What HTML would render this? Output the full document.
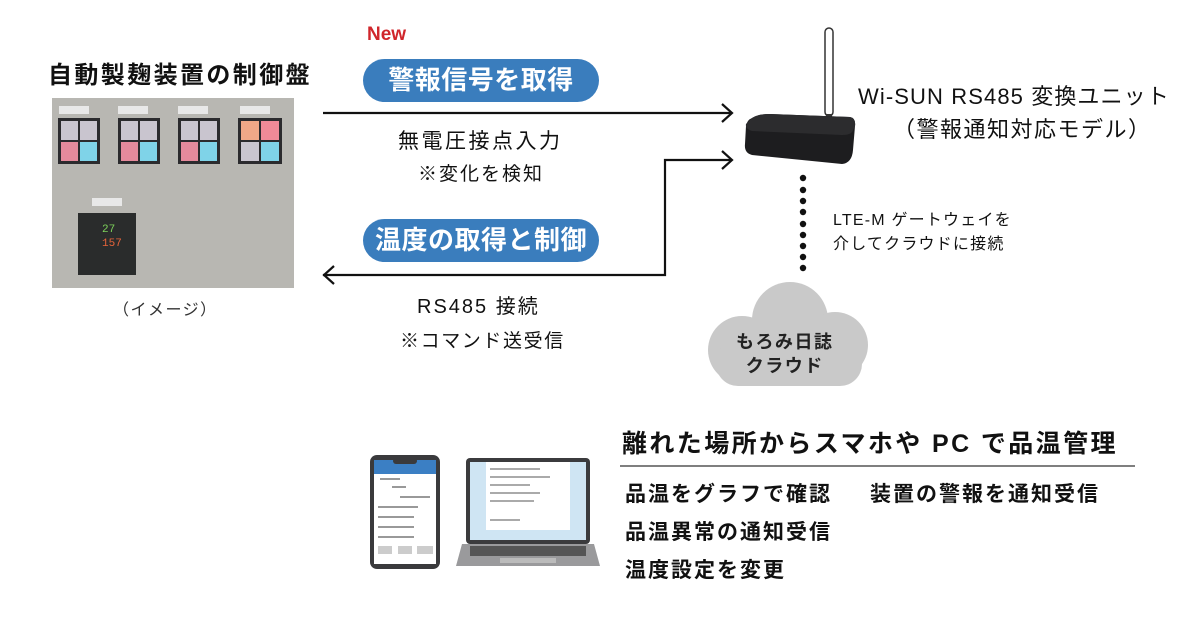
<!DOCTYPE html>
<html><head><meta charset="utf-8"><style>
body{margin:0;width:1200px;height:629px;background:#fff;position:relative;overflow:hidden;font-family:"Liberation Sans","Noto Sans CJK JP",sans-serif;color:#111}
.t{position:absolute;white-space:nowrap}
.pill{position:absolute;background:#3a7dbd;color:#fff;border-radius:22px;font-weight:bold;font-size:26px;text-align:center;letter-spacing:0.5px}
</style></head><body>
<div class="t" style="left:48px;top:55px;font-size:24px;font-weight:bold;letter-spacing:2.4px">自動製麹装置の制御盤</div>
<div class="t" style="left:113px;top:296px;font-size:16px;color:#333;letter-spacing:1.5px">（イメージ）</div>
<svg style="position:absolute;left:52px;top:98px" width="242" height="190">
<rect width="242" height="190" fill="#b8b7b2"/>
<g>
<rect x="7" y="8" width="30" height="8" fill="#e8e8e8"/><rect x="66" y="8" width="30" height="8" fill="#e8e8e8"/><rect x="126" y="8" width="30" height="8" fill="#e8e8e8"/><rect x="188" y="8" width="30" height="8" fill="#e8e8e8"/>
<rect x="6" y="20" width="42" height="46" fill="#2b2b2e"/><rect x="9" y="23" width="17" height="19" fill="#c9c5cf"/><rect x="28" y="23" width="17" height="19" fill="#c9c5cf"/><rect x="9" y="44" width="17" height="19" fill="#e58a9c"/><rect x="28" y="44" width="17" height="19" fill="#7fd3e8"/>
<rect x="66" y="20" width="42" height="46" fill="#2b2b2e"/><rect x="69" y="23" width="17" height="19" fill="#c9c5cf"/><rect x="88" y="23" width="17" height="19" fill="#c9c5cf"/><rect x="69" y="44" width="17" height="19" fill="#e58a9c"/><rect x="88" y="44" width="17" height="19" fill="#7fd3e8"/>
<rect x="126" y="20" width="42" height="46" fill="#2b2b2e"/><rect x="129" y="23" width="17" height="19" fill="#c9c5cf"/><rect x="148" y="23" width="17" height="19" fill="#c9c5cf"/><rect x="129" y="44" width="17" height="19" fill="#e58a9c"/><rect x="148" y="44" width="17" height="19" fill="#7fd3e8"/>
<rect x="186" y="20" width="44" height="46" fill="#2b2b2e"/><rect x="189" y="23" width="18" height="19" fill="#f0a888"/><rect x="209" y="23" width="18" height="19" fill="#f08a98"/><rect x="189" y="44" width="18" height="19" fill="#c9c5cf"/><rect x="209" y="44" width="18" height="19" fill="#7fd3e8"/>
<rect x="40" y="100" width="30" height="8" fill="#e8e8e8"/>
<rect x="26" y="115" width="58" height="62" fill="#2a2c2c"/>
<text x="50" y="134" fill="#7cd05a" font-size="11" font-family="Liberation Mono">27</text>
<text x="50" y="148" fill="#e8643a" font-size="11" font-family="Liberation Mono">157</text>
</g></svg>
<div class="t" style="left:367px;top:24px;font-size:19px;font-weight:bold;color:#d0262b">New</div>
<div class="pill" style="left:363px;top:59px;width:236px;height:43px;line-height:43px">警報信号を取得</div>
<div class="pill" style="left:363px;top:219px;width:236px;height:43px;line-height:43px">温度の取得と制御</div>
<svg style="position:absolute;left:0;top:0" width="1200" height="629">
<g stroke="#111" stroke-width="2.2" fill="none">
<line x1="323" y1="113" x2="732" y2="113"/><polyline points="722,104 732,113 722,122"/>
<polyline points="323,275 665,275 665,160 732,160"/><polyline points="722,151 732,160 722,169"/>
<polyline points="334,266 324,275 334,284"/>
</g>
<rect x="825" y="28" width="8" height="88" rx="4" fill="#fff" stroke="#333" stroke-width="1.5"/>
<rect x="826" y="114" width="6" height="6" fill="#333"/>
<path d="M752 118 Q758 114 770 114 L850 117 Q856 118 855 126 L853 150 Q852 163 842 164 L752 155 Q744 153 745 144 L746 126 Q747 120 752 118Z" fill="#1d1d1f"/>
<path d="M752 118 Q758 114 770 114 L850 117 Q856 118 855 126 L853 130 Q852 135 842 135 L752 131 Q745 129 746 124Z" fill="#2c2c2e"/>
<g fill="#111"><circle cx="803" cy="178" r="3.2"/><circle cx="803" cy="190" r="3.2"/><circle cx="803" cy="201" r="3.2"/><circle cx="803" cy="212" r="3.2"/><circle cx="803" cy="224" r="3.2"/><circle cx="803" cy="235" r="3.2"/><circle cx="803" cy="246" r="3.2"/><circle cx="803" cy="257" r="3.2"/><circle cx="803" cy="268" r="3.2"/></g>
<g fill="#c9c9c9"><circle cx="790" cy="320" r="38"/><circle cx="742" cy="350" r="34"/><circle cx="835" cy="345" r="33"/><rect x="716" y="340" width="146" height="46" rx="22"/></g>
<line x1="620" y1="466" x2="1135" y2="466" stroke="#333" stroke-width="1.2"/>
<rect x="370" y="455" width="70" height="114" rx="7" fill="#3a3a3c"/>
<rect x="374" y="460" width="62" height="104" fill="#fff"/>
<rect x="374" y="460" width="62" height="14" fill="#3b7fc4"/>
<rect x="393" y="458" width="24" height="6" rx="3" fill="#3a3a3c"/>
<g fill="#ccc"><rect x="378" y="546" width="14" height="8"/><rect x="398" y="546" width="14" height="8"/><rect x="417" y="546" width="16" height="8"/></g>
<g fill="#999"><rect x="380" y="478" width="20" height="2"/><rect x="392" y="486" width="14" height="2"/><rect x="400" y="496" width="30" height="2"/><rect x="378" y="506" width="40" height="2"/><rect x="378" y="516" width="36" height="2"/><rect x="378" y="526" width="36" height="2"/><rect x="378" y="536" width="36" height="2"/></g>
<rect x="466" y="458" width="124" height="86" rx="4" fill="#3b3b3d"/>
<rect x="470" y="462" width="116" height="78" fill="#cfe5f3"/>
<rect x="486" y="462" width="84" height="68" fill="#fff"/>
<g fill="#aaa"><rect x="490" y="468" width="50" height="2"/><rect x="490" y="476" width="60" height="2"/><rect x="490" y="484" width="40" height="2"/><rect x="490" y="492" width="50" height="2"/><rect x="490" y="500" width="44" height="2"/><rect x="490" y="519" width="30" height="2"/></g>
<path d="M462 544 L594 544 L600 566 L456 566Z" fill="#9a9a9c"/>
<rect x="470" y="546" width="116" height="10" fill="#555"/>
<rect x="500" y="558" width="56" height="5" fill="#bbb"/>
</svg>
<div class="t" style="left:398px;top:125px;font-size:21px;letter-spacing:2.5px">無電圧接点入力</div>
<div class="t" style="left:418px;top:159px;font-size:19px;letter-spacing:2px">※変化を検知</div>
<div class="t" style="left:417px;top:290px;font-size:20px;letter-spacing:2px">RS485 接続</div>
<div class="t" style="left:400px;top:326px;font-size:19px;letter-spacing:1.6px">※コマンド送受信</div>
<div class="t" style="left:858px;top:79px;font-size:22px;letter-spacing:1.1px">Wi-SUN RS485 変換ユニット</div>
<div class="t" style="left:893px;top:112px;font-size:22px;letter-spacing:1.5px">（警報通知対応モデル）</div>
<div class="t" style="left:833px;top:209px;font-size:16px;line-height:24px;letter-spacing:1.2px">LTE-M ゲートウェイを<br>介してクラウドに接続</div>
<div class="t" style="left:736px;top:330px;font-size:18px;font-weight:bold;line-height:24px;text-align:center;color:#222;letter-spacing:1.5px">もろみ日誌<br>クラウド</div>
<div class="t" style="left:622px;top:424px;font-size:25px;font-weight:bold;letter-spacing:2.4px">離れた場所からスマホや PC で品温管理</div>
<div class="t" style="left:625px;top:478px;font-size:21px;font-weight:bold;letter-spacing:2px">品温をグラフで確認</div>
<div class="t" style="left:870px;top:478px;font-size:21px;font-weight:bold;letter-spacing:2px">装置の警報を通知受信</div>
<div class="t" style="left:625px;top:516px;font-size:21px;font-weight:bold;letter-spacing:2px">品温異常の通知受信</div>
<div class="t" style="left:625px;top:554px;font-size:21px;font-weight:bold;letter-spacing:2px">温度設定を変更</div>
</body></html>
